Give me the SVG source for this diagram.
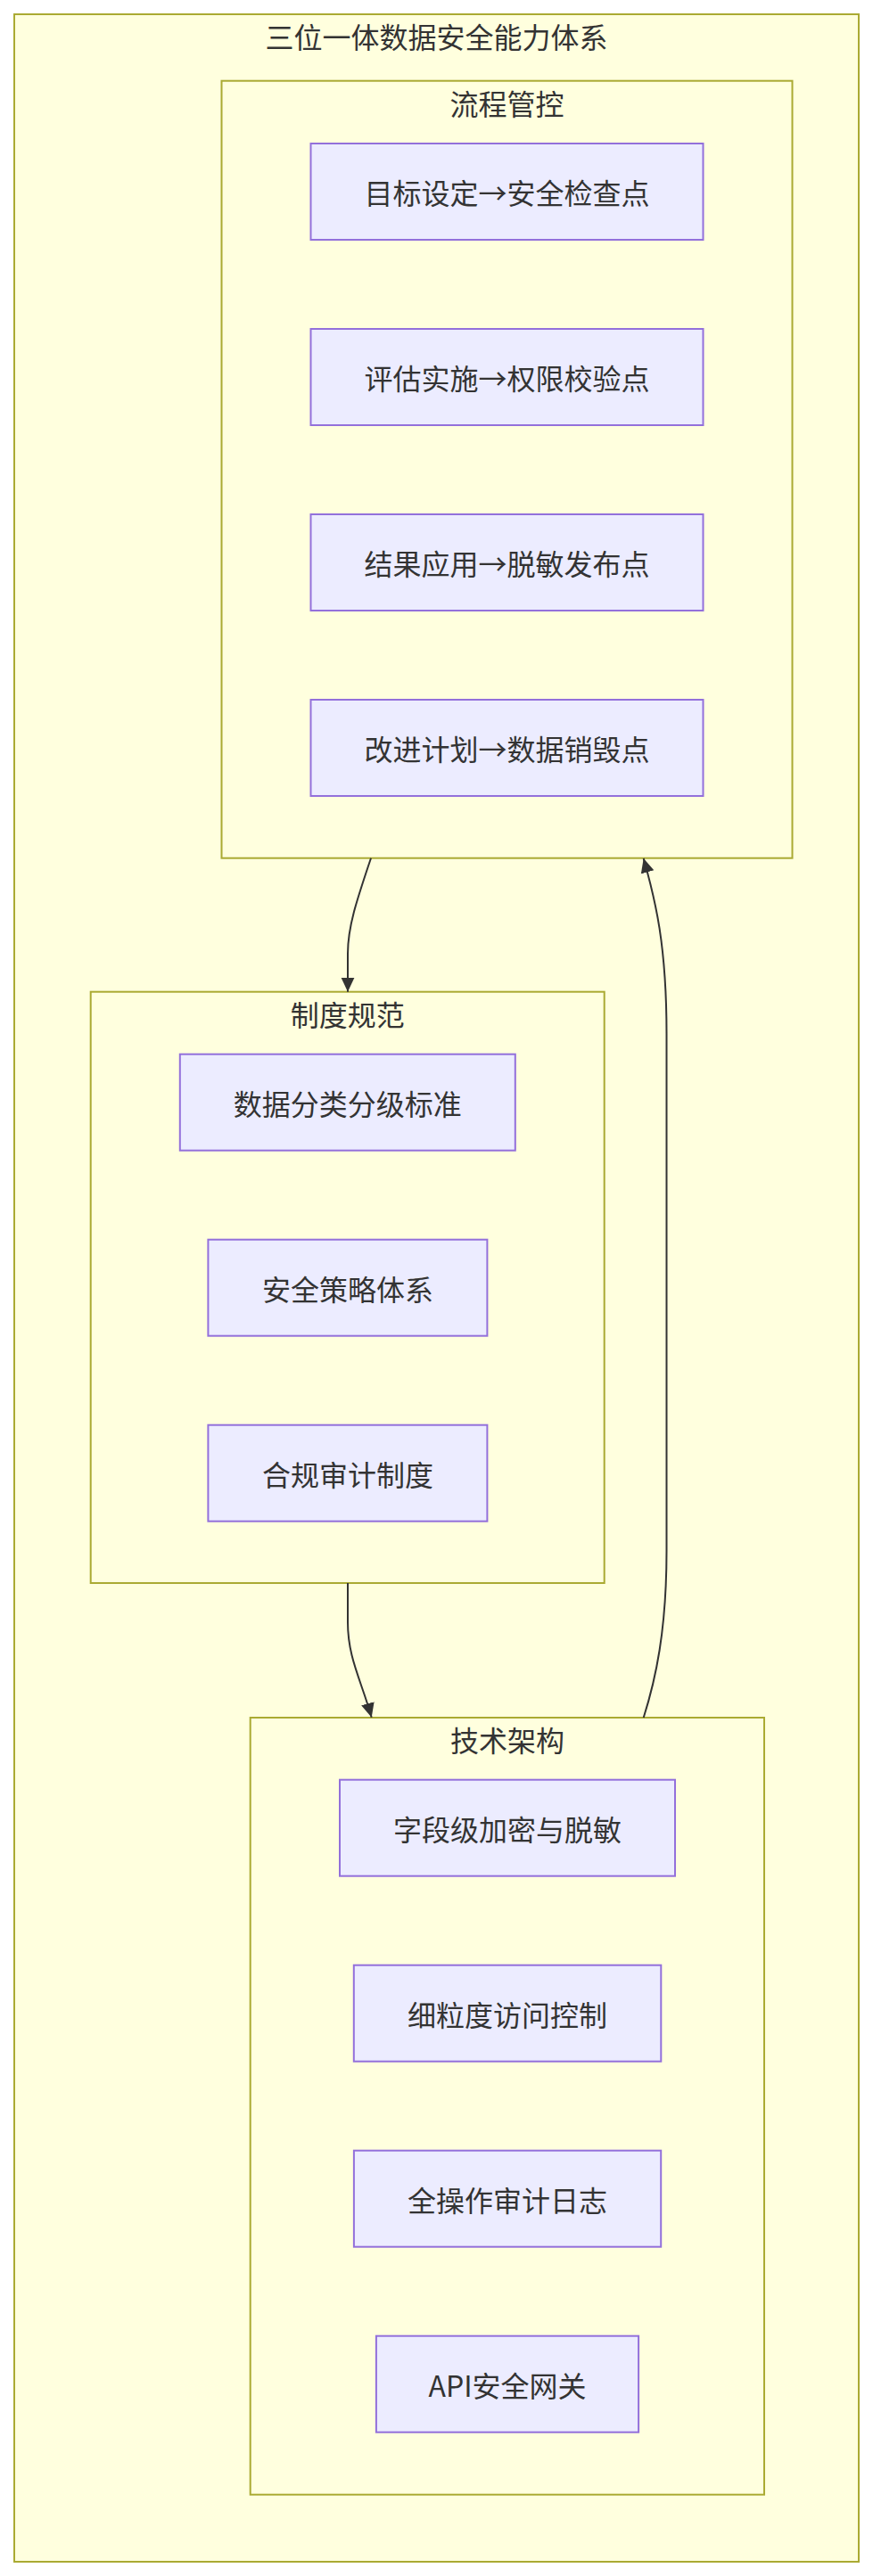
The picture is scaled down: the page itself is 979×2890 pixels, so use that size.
<svg xmlns="http://www.w3.org/2000/svg" width="979" height="2890" viewBox="0 0 979 2890">
<style>
.cluster{fill:#ffffde;stroke:#aaaa33;stroke-width:2}
.node rect{fill:#ECECFF;stroke:#9370DB;stroke-width:2}
text{font-family:"Noto Sans CJK SC","Noto Sans",sans-serif;font-size:32px;fill:#333333;text-anchor:middle;dominant-baseline:central}
.edge{fill:none;stroke:#333333;stroke-width:2}
</style>
<defs>
<marker id="arrow" markerUnits="userSpaceOnUse" markerWidth="16" markerHeight="16" viewBox="0 0 16 16" refX="16" refY="8" orient="auto">
<path d="M0,0.5 L16,8 L0,15.5 z" fill="#333333"/>
</marker>
</defs>
<rect width="979" height="2890" fill="#ffffff"/>
<g id="cluster-outer">
<rect class="cluster" x="16" y="16" width="947" height="2858"/>
<text x="489.5" y="40">三位一体数据安全能力体系</text>
</g>
<g id="cluster-process">
<rect class="cluster" x="248.5" y="90.7" width="640" height="872"/>
<text x="568.5" y="114.5">流程管控</text>
</g>
<g id="cluster-policy">
<rect class="cluster" x="101.7" y="1112.7" width="576" height="663.3"/>
<text x="389.7" y="1136.7">制度规范</text>
</g>
<g id="cluster-tech">
<rect class="cluster" x="280.7" y="1927" width="576.3" height="871.7"/>
<text x="568.9" y="1951">技术架构</text>
</g>
<g id="connectors">
<path class="edge" d="M416,962.7 C400,1010 390,1040 390,1070 L390,1112.7" marker-end="url(#arrow)"/>
<path class="edge" d="M390,1776 L390,1820 C390,1860 405,1885 416.7,1926.7" marker-end="url(#arrow)"/>
<path class="edge" d="M721.7,1927 C735,1885 747.5,1830 747.5,1740 L747.5,1160 C747.5,1060 735,1010 721.7,963" marker-end="url(#arrow)"/>
</g>
<g id="n-goal" class="node"><rect x="348.5" y="161" width="440" height="108"/><text x="568.5" y="215">目标设定→安全检查点</text></g>
<g id="n-assess" class="node"><rect x="348.5" y="369" width="440" height="108"/><text x="568.5" y="423">评估实施→权限校验点</text></g>
<g id="n-result" class="node"><rect x="348.5" y="577" width="440" height="108"/><text x="568.5" y="631">结果应用→脱敏发布点</text></g>
<g id="n-improve" class="node"><rect x="348.5" y="785" width="440" height="108"/><text x="568.5" y="839">改进计划→数据销毁点</text></g>
<g id="n-classify" class="node"><rect x="201.8" y="1182.7" width="376" height="108"/><text x="389.8" y="1236.7">数据分类分级标准</text></g>
<g id="n-strategy" class="node"><rect x="233.4" y="1390.7" width="313" height="108"/><text x="389.9" y="1444.7">安全策略体系</text></g>
<g id="n-audit" class="node"><rect x="233.4" y="1598.7" width="313" height="108"/><text x="389.9" y="1652.7">合规审计制度</text></g>
<g id="n-encrypt" class="node"><rect x="381" y="1996.7" width="376" height="108"/><text x="569" y="2050.7">字段级加密与脱敏</text></g>
<g id="n-access" class="node"><rect x="396.8" y="2204.7" width="344.5" height="108"/><text x="569" y="2258.7">细粒度访问控制</text></g>
<g id="n-log" class="node"><rect x="396.9" y="2412.7" width="344.3" height="108"/><text x="569" y="2466.7">全操作审计日志</text></g>
<g id="n-api" class="node"><rect x="421.9" y="2620.7" width="294.2" height="108"/><text x="569" y="2674.7">API安全网关</text></g>
</svg>
